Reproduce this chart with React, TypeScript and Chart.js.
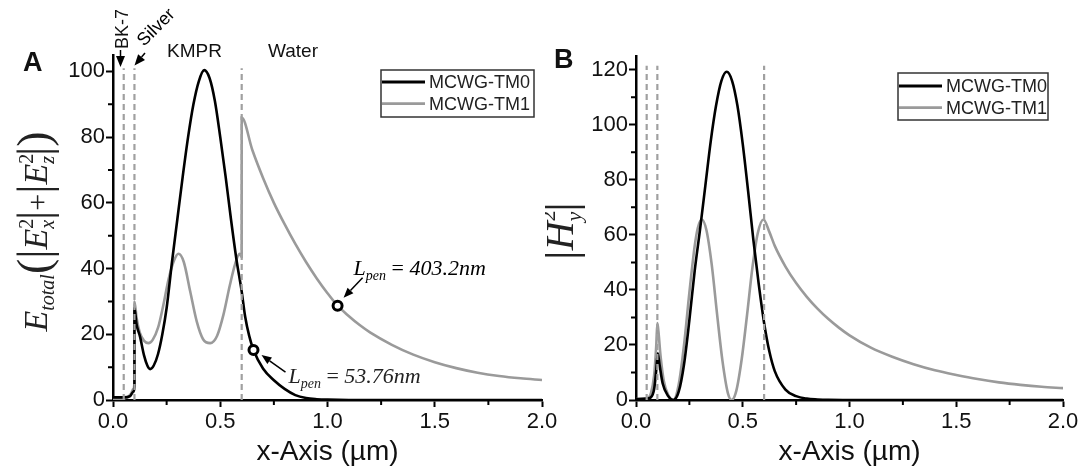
import React, { useEffect, useRef } from 'react';
import { Chart, registerables } from 'chart.js';
Chart.register(...registerables);

// ---------------- data ----------------
const SERIES_LABELS = ['MCWG-TM0', 'MCWG-TM1'];
const X_TICKS = [0, 0.5, 1.0, 1.5, 2.0];
const X_MINOR = [0.25, 0.75, 1.25, 1.75];
const A_Y_TICKS = [0, 20, 40, 60, 80, 100];
const A_Y_MINOR = [10, 30, 50, 70, 90];
const B_Y_TICKS = [0, 20, 40, 60, 80, 100, 120];
const B_Y_MINOR = [10, 30, 50, 70, 90, 110];
const LAYER_BOUNDS = [0.05, 0.1, 0.6];
const A_BOUND_TOP = 101;
const B_BOUND_TOP = 121.5;
const LAYER_NAMES = ['BK-7', 'Silver', 'KMPR', 'Water'];

// Panel A, MCWG-TM0
const A_TM0_X = [0, 0.05, 0.08, 0.095, 0.0999, 0.1, 0.11, 0.126, 0.145, 0.16, 0.173, 0.19, 0.21, 0.23, 0.25, 0.275, 0.3, 0.325, 0.35, 0.375, 0.4, 0.425, 0.45, 0.475, 0.5, 0.525, 0.55, 0.575, 0.6, 0.616, 0.635, 0.655, 0.7, 0.75, 0.8, 0.85, 0.9, 0.95, 1.0, 1.1, 1.3, 1.6, 2.0];
const A_TM0_Y = [0.8, 0.8, 1.2, 2.5, 4, 28, 23, 19.3, 13.5, 10.5, 9.4, 10.5, 14, 20, 28, 42, 55, 68, 80, 90, 97, 100.4, 98, 91, 80, 68, 55, 43, 33, 25.4, 19.5, 15.2, 9.5, 6, 3.4, 1.5, 0.6, 0.25, 0.1, 0, 0, 0, 0];
// Panel A, MCWG-TM1
const A_TM1_X = [0, 0.05, 0.07, 0.085, 0.095, 0.0999, 0.1, 0.11, 0.125, 0.145, 0.165, 0.185, 0.21, 0.235, 0.26, 0.285, 0.305, 0.33, 0.36, 0.39, 0.42, 0.453, 0.485, 0.515, 0.545, 0.57, 0.59, 0.5999, 0.6, 0.65, 0.7, 0.75, 0.8, 0.85, 0.9, 0.95, 1.0, 1.047, 1.1, 1.15, 1.2, 1.3, 1.4, 1.5, 1.6, 1.7, 1.8, 1.9, 2.0];
const A_TM1_Y = [0.3, 0.5, 1, 2, 3.5, 5, 30, 25, 20.5, 18, 17.3, 18.3, 22, 29, 37, 42.5, 44.5, 42, 33, 24, 18.5, 17.3, 19.5, 26, 35, 41.5, 44.5, 43.5, 86, 76, 67.5, 60, 53.5, 47.5, 42, 37, 32.5, 28.7, 25.5, 22.8, 20.5, 16.8, 13.8, 11.5, 9.7, 8.3, 7.3, 6.6, 6.1];
// Panel A, penetration-depth markers
const A_MARK_X = [0.655, 1.047];
const A_MARK_Y = [15.2, 28.7];
const A_LPEN = ['53.76nm', '403.2nm'];

// Panel B, MCWG-TM0
const B_TM0_X = [0, 0.05, 0.07, 0.085, 0.095, 0.102, 0.11, 0.125, 0.15, 0.175, 0.2, 0.225, 0.25, 0.275, 0.3, 0.325, 0.35, 0.375, 0.4, 0.425, 0.45, 0.475, 0.5, 0.525, 0.55, 0.575, 0.6, 0.625, 0.65, 0.7, 0.75, 0.8, 0.85, 0.9, 1.0, 2.0];
const B_TM0_Y = [0.3, 0.5, 1, 4, 11, 17, 13, 6, 1.5, 0, 3, 13, 29, 47, 62, 78, 94, 107, 116, 119.3, 116, 107, 93, 76, 58, 42, 28, 17.5, 10.5, 3.8, 1.4, 0.5, 0.2, 0.05, 0, 0];
// Panel B, MCWG-TM1
const B_TM1_X = [0, 0.05, 0.07, 0.085, 0.095, 0.1, 0.105, 0.115, 0.13, 0.15, 0.175, 0.2, 0.225, 0.25, 0.275, 0.29, 0.308, 0.33, 0.355, 0.38, 0.405, 0.43, 0.448, 0.47, 0.495, 0.52, 0.545, 0.57, 0.597, 0.625, 0.65, 0.7, 0.75, 0.8, 0.85, 0.9, 0.95, 1.0, 1.1, 1.2, 1.3, 1.4, 1.5, 1.6, 1.7, 1.8, 1.9, 2.0];
const B_TM1_Y = [0.3, 0.5, 2.5, 9, 20, 28, 25, 16, 7, 2, 0, 5.6, 20, 39, 56, 62.7, 65.6, 61.7, 49, 31, 14.2, 2.6, 0, 3.4, 14.8, 30.8, 47.9, 60.5, 65.6, 61, 56, 48.5, 42.5, 37.5, 33.2, 29.5, 26.3, 23.5, 19, 15.7, 13, 10.8, 9.1, 7.6, 6.4, 5.5, 4.8, 4.3];

// ---------------- helpers ----------------
const SANS = '"Liberation Sans", Arial, sans-serif';
const SERIF = '"Liberation Serif", "Times New Roman", serif';
const GREY = '#9a9a9a';
const DASH = '#a0a0a0';

const pts = (xs: number[], ys: number[]) => xs.map((x, i) => ({ x, y: ys[i] }));

type Run = { t: string; font: string; dy?: number; adv?: boolean };
function runsWidth(ctx: CanvasRenderingContext2D, runs: Run[]) {
  let w = 0;
  for (const r of runs) {
    ctx.font = r.font;
    if (r.adv !== false) w += ctx.measureText(r.t).width;
  }
  return w;
}
function drawRuns(ctx: CanvasRenderingContext2D, runs: Run[], x: number, y: number) {
  let cx = x;
  for (const r of runs) {
    ctx.font = r.font;
    ctx.fillText(r.t, cx, y + (r.dy || 0));
    if (r.adv !== false) cx += ctx.measureText(r.t).width;
  }
}
function arrow(ctx: CanvasRenderingContext2D, x1: number, y1: number, x2: number, y2: number, head = 10, half = 4) {
  const ang = Math.atan2(y2 - y1, x2 - x1);
  const bx = x2 - head * Math.cos(ang);
  const by = y2 - head * Math.sin(ang);
  ctx.beginPath();
  ctx.moveTo(x1, y1);
  ctx.lineTo(bx, by);
  ctx.lineWidth = 1.5;
  ctx.strokeStyle = '#000';
  ctx.stroke();
  ctx.beginPath();
  ctx.moveTo(x2, y2);
  ctx.lineTo(bx + half * Math.sin(ang), by - half * Math.cos(ang));
  ctx.lineTo(bx - half * Math.sin(ang), by + half * Math.cos(ang));
  ctx.closePath();
  ctx.fillStyle = '#000';
  ctx.fill();
}

const minorTicks = {
  id: 'minorTicks',
  afterDraw(chart: any, _a: any, opts: any) {
    const { ctx } = chart;
    const xs = chart.scales.x;
    const ys = chart.scales.y;
    ctx.save();
    ctx.strokeStyle = '#000';
    ctx.lineWidth = 2;
    ctx.beginPath();
    for (const v of opts.x) {
      const px = xs.getPixelForValue(v);
      ctx.moveTo(px, xs.top);
      ctx.lineTo(px, xs.top + opts.len);
    }
    for (const v of opts.y) {
      const py = ys.getPixelForValue(v);
      ctx.moveTo(ys.right, py);
      ctx.lineTo(ys.right - opts.len, py);
    }
    ctx.stroke();
    ctx.restore();
  },
};

const boxLegend = {
  id: 'boxLegend',
  afterDraw(chart: any, _a: any, opts: any) {
    const { ctx } = chart;
    const items = chart.data.datasets.filter((d: any) => SERIES_LABELS.includes(d.label));
    ctx.save();
    ctx.strokeStyle = '#333';
    ctx.lineWidth = 1.5;
    ctx.strokeRect(opts.left, opts.top, opts.width, opts.height);
    ctx.font = `18px ${SANS}`;
    ctx.textBaseline = 'middle';
    ctx.fillStyle = '#222';
    items.forEach((d: any, i: number) => {
      const y = opts.top + opts.rowTop + i * opts.rowGap;
      ctx.beginPath();
      ctx.moveTo(opts.left + 1, y);
      ctx.lineTo(opts.left + opts.lineLen, y);
      ctx.strokeStyle = d.borderColor;
      ctx.lineWidth = 2.8;
      ctx.stroke();
      ctx.fillText(d.label, opts.left + opts.textOff, y + 1);
    });
    ctx.restore();
  },
};

function curve(label: string, xs: number[], ys: number[], color: string) {
  return {
    label,
    data: pts(xs, ys),
    borderColor: color,
    backgroundColor: color,
    borderWidth: 2.6,
    pointRadius: 0,
    cubicInterpolationMode: 'monotone' as const,
    fill: false,
  };
}
function boundary(x: number, top: number) {
  return {
    label: 'boundary',
    data: [{ x, y: 0 }, { x, y: top }],
    borderColor: DASH,
    borderWidth: 2.2,
    borderDash: [6, 4],
    pointRadius: 0,
    tension: 0,
    fill: false,
  };
}

function makeConfig(p: any) {
  return {
    type: 'line' as const,
    data: { datasets: p.datasets },
    plugins: [minorTicks, boxLegend, p.annot],
    options: {
      animation: false as const,
      responsive: false,
      maintainAspectRatio: false,
      events: [],
      layout: { padding: p.padding },
      plugins: {
        legend: { display: false },
        tooltip: { enabled: false },
        minorTicks: { x: X_MINOR, y: p.yMinor, len: 5 },
        boxLegend: p.legend,
      },
      scales: {
        x: {
          type: 'linear' as const,
          min: 0,
          max: 2,
          afterBuildTicks: (s: any) => {
            s.ticks = X_TICKS.map((v) => ({ value: v }));
          },
          afterFit: (s: any) => {
            s.height = 70;
          },
          ticks: {
            callback: (v: any) => Number(v).toFixed(1),
            font: { family: SANS, size: 22 },
            color: '#111',
            padding: 2,
            maxRotation: 0,
            autoSkip: false,
          },
          grid: { drawOnChartArea: false, drawTicks: true, tickLength: 7, tickWidth: 2, tickColor: '#000' },
          border: { display: true, color: '#000', width: 2.5 },
          title: {
            display: true,
            text: 'x-Axis (µm)',
            font: { family: SANS, size: 28 },
            color: '#111',
            padding: { top: 0, bottom: 1 },
          },
        },
        y: {
          type: 'linear' as const,
          min: 0,
          max: p.yMax,
          afterBuildTicks: (s: any) => {
            s.ticks = p.yTicks.map((v: number) => ({ value: v }));
          },
          afterFit: (s: any) => {
            s.width = p.yWidth;
          },
          ticks: {
            callback: (v: any) => String(v),
            font: { family: SANS, size: 22 },
            color: '#111',
            padding: 1,
            autoSkip: false,
          },
          grid: { drawOnChartArea: false, drawTicks: true, tickLength: 7, tickWidth: 2, tickColor: '#000' },
          border: { display: true, color: '#000', width: 2.5 },
        },
      },
    },
  };
}

function markerSet(xs: number[], ys: number[]) {
  return {
    label: 'marker',
    data: pts(xs, ys),
    showLine: false,
    pointRadius: 4.5,
    pointBorderWidth: 3,
    pointBorderColor: '#000',
    pointBackgroundColor: '#fff',
  };
}

const annotA = {
  id: 'annotA',
  afterDraw(chart: any) {
    const { ctx } = chart;
    const xs = chart.scales.x;
    const ys = chart.scales.y;
    ctx.save();
    ctx.fillStyle = '#111';
    ctx.textBaseline = 'alphabetic';
    // panel letter
    ctx.font = `bold 27px ${SANS}`;
    ctx.fillText('A', 23, 71);
    // layer names
    ctx.font = `19px ${SANS}`;
    ctx.fillText(LAYER_NAMES[2], 167, 57);
    ctx.fillText(LAYER_NAMES[3], 268, 57);
    ctx.font = `18px ${SANS}`;
    ctx.save();
    ctx.translate(128, 49);
    ctx.rotate(-Math.PI / 2);
    ctx.fillText(LAYER_NAMES[0], 0, 0);
    ctx.restore();
    arrow(ctx, 120.5, 50, 120.5, 67, 11, 4.5);
    ctx.save();
    ctx.translate(144, 47);
    ctx.rotate(-Math.PI / 4);
    ctx.fillText(LAYER_NAMES[1], 0, 0);
    ctx.restore();
    arrow(ctx, 145, 53, 134.5, 65.5, 11, 4.5);

    // penetration depth labels
    const m0x = xs.getPixelForValue(A_MARK_X[0]);
    const m0y = ys.getPixelForValue(A_MARK_Y[0]);
    const m1x = xs.getPixelForValue(A_MARK_X[1]);
    const m1y = ys.getPixelForValue(A_MARK_Y[1]);
    const lpen = (val: string): Run[] => [
      { t: 'L', font: `italic 22px ${SERIF}` },
      { t: 'pen', font: `italic 14px ${SERIF}`, dy: 5 },
      { t: ' = ', font: `22px ${SERIF}` },
      { t: val, font: `italic 22px ${SERIF}` },
    ];
    ctx.fillStyle = '#222';
    drawRuns(ctx, lpen(A_LPEN[0]), m0x + 35, m0y + 33);
    arrow(ctx, m0x + 32, m0y + 22, m0x + 8, m0y + 5, 10, 4);
    drawRuns(ctx, lpen(A_LPEN[1]), m1x + 16, m1y - 31);
    arrow(ctx, m1x + 25, m1y - 28, m1x + 6, m1y - 8, 10, 4);

    // y-axis title
    const big = `46px ${SERIF}`;
    const E = `italic 34px ${SERIF}`;
    const sm = `20px ${SERIF}`;
    const smi = `italic 20px ${SERIF}`;
    const runs: Run[] = [
      { t: 'E', font: E },
      { t: 'total', font: smi, dy: 7 },
      { t: '(', font: big, dy: 2 },
      { t: '|', font: big, dy: 2 },
      { t: 'E', font: E },
      { t: '2', font: sm, dy: -14, adv: false },
      { t: 'x', font: smi, dy: 7 },
      { t: '|', font: big, dy: 2 },
      { t: '+', font: `30px ${SERIF}` },
      { t: '|', font: big, dy: 2 },
      { t: 'E', font: E },
      { t: '2', font: sm, dy: -14, adv: false },
      { t: 'z', font: smi, dy: 7 },
      { t: '|', font: big, dy: 2 },
      { t: ')', font: big, dy: 2 },
    ];
    ctx.fillStyle = '#222';
    ctx.save();
    const cy = (chart.chartArea.top + chart.chartArea.bottom) / 2 + 4;
    ctx.translate(47, cy);
    ctx.rotate(-Math.PI / 2);
    const w = runsWidth(ctx, runs);
    drawRuns(ctx, runs, -w / 2, 0);
    ctx.restore();
    ctx.restore();
  },
};

const annotB = {
  id: 'annotB',
  afterDraw(chart: any) {
    const { ctx } = chart;
    ctx.save();
    ctx.fillStyle = '#111';
    ctx.font = `bold 27px ${SANS}`;
    ctx.fillText('B', 9, 68);
    const runs: Run[] = [
      { t: '|', font: `48px ${SERIF}`, dy: 2 },
      { t: 'H', font: `italic 40px ${SERIF}` },
      { t: '2', font: `22px ${SERIF}`, dy: -18, adv: false },
      { t: 'y', font: `italic 22px ${SERIF}`, dy: 8 },
      { t: '|', font: `48px ${SERIF}`, dy: 2 },
    ];
    ctx.fillStyle = '#222';
    ctx.save();
    const cy = (chart.chartArea.top + chart.chartArea.bottom) / 2 + 3;
    ctx.translate(28, cy);
    ctx.rotate(-Math.PI / 2);
    const w = runsWidth(ctx, runs);
    drawRuns(ctx, runs, -w / 2, 0);
    ctx.restore();
    ctx.restore();
  },
};

const panelA = {
  datasets: [
    markerSet(A_MARK_X, A_MARK_Y),
    ...LAYER_BOUNDS.map((x) => boundary(x, A_BOUND_TOP)),
    curve(SERIES_LABELS[0], A_TM0_X, A_TM0_Y, '#000'),
    curve(SERIES_LABELS[1], A_TM1_X, A_TM1_Y, GREY),
  ],
  padding: { left: 0, right: 23, top: 55, bottom: 0 },
  yWidth: 113,
  yMax: 105,
  yTicks: A_Y_TICKS,
  yMinor: A_Y_MINOR,
  legend: { left: 381, top: 70, width: 153, height: 47, rowTop: 12, rowGap: 21.6, lineLen: 44, textOff: 48 },
  annot: annotA,
};

const panelB = {
  datasets: [
    ...LAYER_BOUNDS.map((x) => boundary(x, B_BOUND_TOP)),
    curve(SERIES_LABELS[0], B_TM0_X, B_TM0_Y, '#000'),
    curve(SERIES_LABELS[1], B_TM1_X, B_TM1_Y, GREY),
  ],
  padding: { left: 0, right: 22, top: 56, bottom: 0 },
  yWidth: 91,
  yMax: 125,
  yTicks: B_Y_TICKS,
  yMinor: B_Y_MINOR,
  legend: { left: 353, top: 73, width: 150, height: 47, rowTop: 13, rowGap: 21.6, lineLen: 44, textOff: 48 },
  annot: annotB,
};

export default function App() {
  const refA = useRef<HTMLCanvasElement>(null);
  const refB = useRef<HTMLCanvasElement>(null);
  useEffect(() => {
    const a = new Chart(refA.current as HTMLCanvasElement, makeConfig(panelA) as any);
    const b = new Chart(refB.current as HTMLCanvasElement, makeConfig(panelB) as any);
    return () => {
      a.destroy();
      b.destroy();
    };
  }, []);
  return (
    <div style={{ position: 'fixed', left: 0, top: 0, width: 1085, height: 470, background: '#fff', overflow: 'hidden' }}>
      <canvas ref={refA} width={565} height={470} style={{ position: 'absolute', left: 0, top: 0, width: 565, height: 470 }} />
      <canvas ref={refB} width={540} height={470} style={{ position: 'absolute', left: 545, top: 0, width: 540, height: 470 }} />
    </div>
  );
}
